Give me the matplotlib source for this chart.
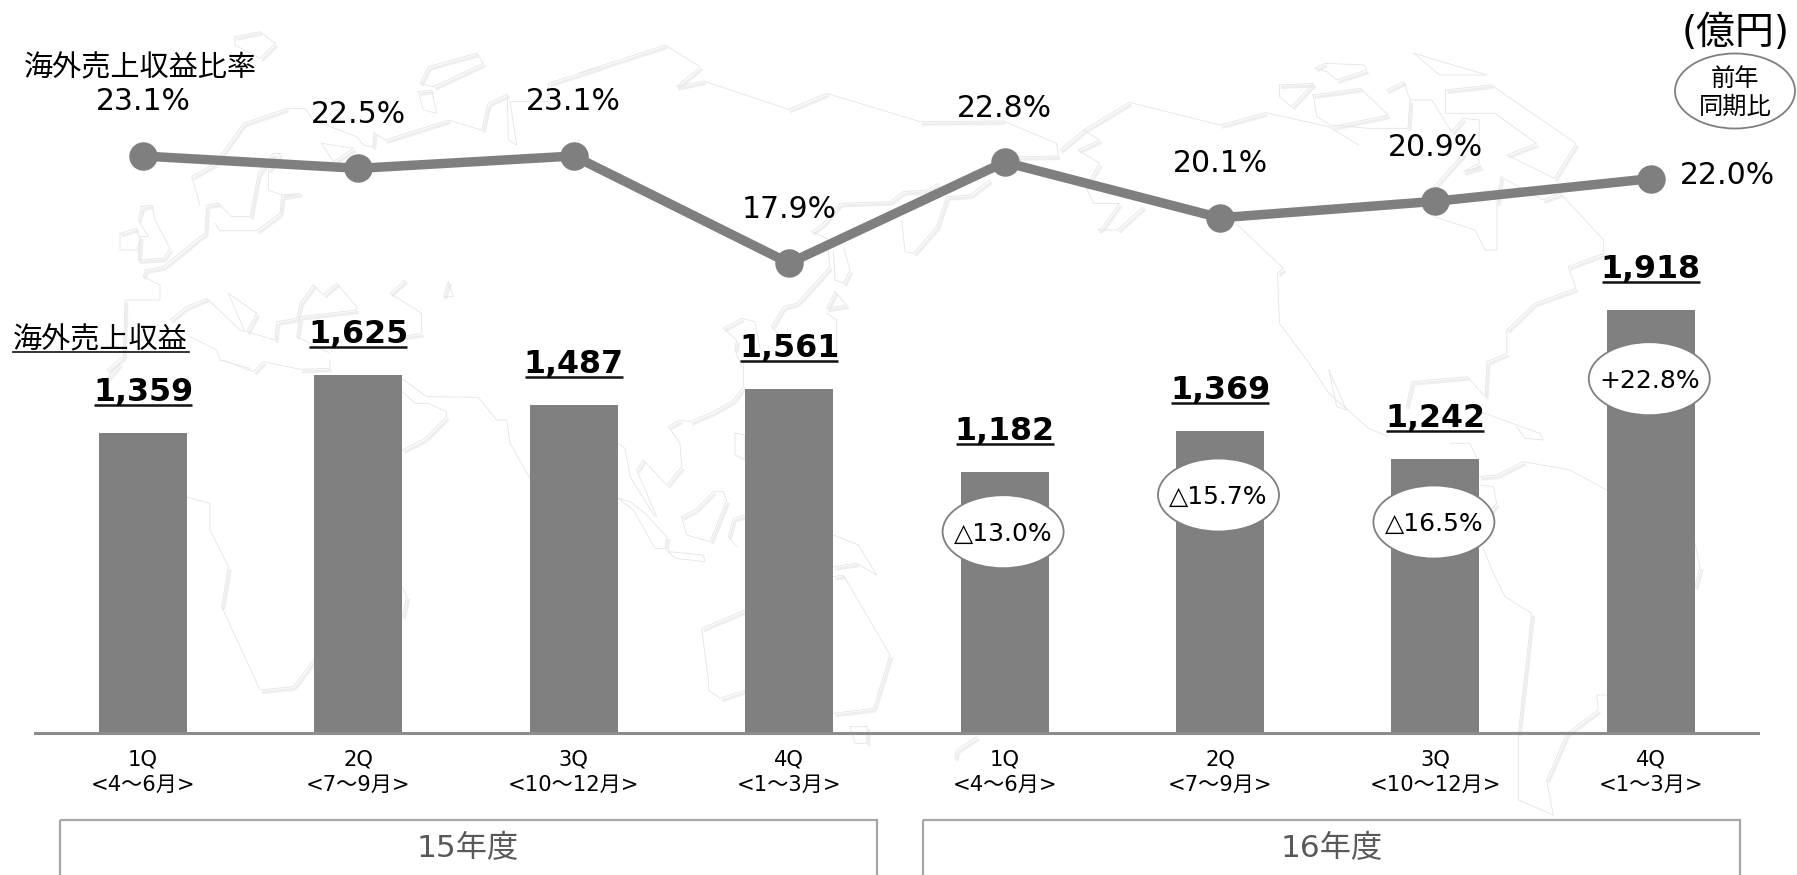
import matplotlib
matplotlib.use('Agg')
import matplotlib.pyplot as plt
from matplotlib.patches import Ellipse, Rectangle

plt.rcParams['font.family'] = ['DejaVu Sans', 'Noto Sans CJK JP']

W, H = 1797, 875

# data
quarters = ['1Q\n<4～6月>', '2Q\n<7～9月>', '3Q\n<10～12月>', '4Q\n<1～3月>'] * 2
sales = [1359, 1625, 1487, 1561, 1182, 1369, 1242, 1918]
ratio = [23.1, 22.5, 23.1, 17.9, 22.8, 20.1, 20.9, 22.0]
yoy_labels = ['△13.0%', '△15.7%', '△16.5%', '+22.8%']
yoy_index = [4, 5, 6, 7]
years = ['15年度', '16年度']

# pixel layout of the chart
x0, x_step = 143.0, 215.4
base_y, px_per_sale = 732.5, 0.2203
ratio_y, px_per_pct = 156.0, 20.6
bar_w = 88 / x_step
gray = '#7f7f7f'

map_5 = (100, 20, 3, 3, [
    [(300, 555), (275, 470), (345, 430), (430, 310), (560, 265), (615, 265), (640, 300), (690, 320), (770, 350), (790, 375), (818, 382), (822, 338), (855, 360), (1045, 300), (1145, 330), (1165, 250), (1222, 222), (1225, 360), (1250, 375), (1230, 245), (1345, 245), (1345, 190), (1500, 140)],
    [(125, 560), (155, 555), (165, 600), (210, 685), (190, 715), (115, 720), (120, 650), (145, 650), (115, 600), (125, 560)],
    [(60, 640), (110, 625), (120, 660), (110, 690), (60, 690), (60, 640)],
    [(405, 50), (480, 35), (525, 70), (480, 115), (405, 75), (405, 50)],
    [(1130, 100), (1150, 130), (1000, 200), (960, 190), (985, 140), (1130, 100)],
    [(955, 215), (995, 210), (1010, 280), (970, 270), (955, 215)],
    [(665, 370), (760, 385), (700, 425), (665, 370)],
    [(345, 610), (360, 632), (470, 632), (540, 580), (545, 530), (600, 520), (545, 525), (505, 510), (505, 450), (540, 400), (520, 400), (475, 460), (450, 590), (395, 590), (355, 550), (320, 555), (315, 640), (300, 650), (190, 740), (135, 750), (130, 770), (180, 795), (180, 840), (75, 840), (70, 1010), (20, 1050)],
    [(210, 900), (260, 860), (320, 835), (420, 930), (435, 935), (385, 820), (470, 880), (440, 935), (525, 960), (530, 905), (590, 895), (600, 850), (640, 795), (670, 825), (710, 790), (770, 860), (770, 870), (600, 890), (590, 950), (690, 1000)],
    [(1045, 785), (1030, 830), (1060, 830), (1045, 785)],
    [(915, 780), (870, 820), (965, 880), (965, 940), (900, 950)],
    [(270, 950), (350, 990), (360, 1020), (450, 1045)],
])
map_6 = (100, 360, 3, 3, [
    [(60, 10), (0, 80)],
    [(370, 0), (460, 35), (490, 5), (600, 28), (690, 25), (690, 0)],
    [(262, 412), (330, 430), (330, 510), (385, 620), (365, 740), (480, 990), (580, 980), (640, 900)],
    [(905, 680), (920, 710), (907, 770)],
    [(907, 95), (945, 130), (985, 130), (1040, 155), (1040, 170), (975, 235), (907, 270)],
    [(905, 55), (980, 110), (1135, 112), (1190, 180), (1220, 180), (1230, 250), (1290, 355)],
])
map_7 = (580, 20, 3, 3, [
    [(0, 158), (255, 75), (360, 140), (290, 200), (370, 183), (625, 268), (740, 220), (1020, 305), (1270, 303), (1430, 370), (1435, 408), (1310, 410)],
    [(1230, 480), (1170, 525), (1100, 530), (1070, 620), (1000, 700), (975, 695), (965, 600)],
    [(1075, 490), (1040, 510), (970, 515), (930, 545), (780, 550), (730, 610), (695, 635), (740, 655), (750, 740), (650, 850), (610, 860), (575, 920), (600, 950)],
    [(790, 680), (810, 750), (790, 790), (765, 780), (760, 690)],
    [(765, 815), (740, 865), (800, 855), (765, 815)],
    [(740, 880), (770, 900), (770, 1010)],
    [(540, 985), (525, 905), (485, 895), (430, 925), (470, 960), (465, 990), (485, 1040)],
])
map_8 = (580, 360, 3, 3, [
    [(490, 10), (490, 80), (460, 120), (400, 155), (330, 185), (300, 180), (265, 200), (300, 250), (305, 320), (260, 375), (190, 300), (170, 330), (230, 470)],
    [(115, 250), (135, 265), (150, 350), (225, 470)],
    [(115, 415), (160, 450), (225, 565), (255, 565), (260, 530), (195, 460), (150, 425), (115, 415)],
    [(265, 575), (370, 585), (375, 605), (285, 595), (265, 575)],
    [(305, 470), (320, 525), (390, 545), (440, 420), (430, 395), (400, 395), (345, 450), (305, 470)],
    [(495, 465), (460, 475), (445, 530), (470, 560)],
    [(465, 220), (495, 225), (495, 300), (465, 285), (465, 220)],
    [(760, 525), (835, 555), (890, 645), (830, 610), (760, 620)],
    [(495, 750), (365, 805), (385, 960), (385, 990), (420, 1015), (495, 990)],
    [(760, 650), (790, 645), (930, 885), (880, 1045), (760, 1060)],
    [(810, 1100), (862, 1100), (860, 1150), (825, 1150), (810, 1100)],
    [(1190, 1130), (1130, 1170), (1125, 1195)],
])
map_9 = (1060, 40, 2.529, 3, [
    [(0, 330), (60, 270), (175, 187), (405, 255), (520, 218), (680, 260), (755, 315)],
    [(60, 270), (100, 300), (45, 330), (100, 370), (65, 440), (85, 490), (150, 490), (105, 565), (95, 570), (145, 570), (210, 500)],
    [(440, 545), (565, 685), (550, 700), (555, 850), (630, 970), (680, 1060), (780, 1165), (830, 1190)],
    [(680, 990), (725, 1110), (700, 1100), (680, 990)],
    [(1375, 600), (1375, 640), (1285, 680), (1305, 745), (1200, 790), (1130, 870), (1130, 940), (1080, 965), (1075, 1070), (1030, 1010), (890, 1025), (875, 1100)],
    [(945, 530), (1050, 570), (1075, 630), (1105, 630), (1105, 490), (1115, 410), (1220, 480), (1265, 460), (1375, 600)],
    [(555, 135), (640, 130), (585, 200), (555, 170), (555, 135)],
    [(640, 165), (760, 145), (830, 225), (690, 260), (650, 230), (640, 165)],
    [(645, 85), (670, 70), (770, 75), (775, 90), (700, 120), (675, 95), (645, 85)],
    [(895, 40), (1080, 105), (960, 105), (895, 40)],
    [(975, 150), (1090, 135), (1305, 310), (1250, 415), (1130, 345), (1205, 310), (1100, 220), (975, 220), (975, 150)],
    [(825, 150), (870, 125), (885, 180), (940, 180), (990, 275), (1020, 235), (1060, 240), (1060, 370), (1020, 395), (1065, 380)],
    [(885, 180), (880, 265), (780, 265), (690, 255)],
    [(1020, 340), (945, 440)],
])
map_10 = (1200, 400, 3, 3, [
    [(800, 20), (950, 75), (1020, 100), (1030, 120), (975, 115), (950, 80)],
    [(838, 230), (890, 225), (970, 185), (1110, 210), (1220, 270)],
    [(838, 255), (880, 260), (890, 310), (850, 360)],
    [(750, 130), (810, 130), (830, 175)],
    [(850, 445), (880, 520), (915, 590), (995, 640), (955, 1000), (955, 1200), (1060, 1245)],
    [(1220, 885), (1190, 885), (1195, 930), (1100, 1000), (1040, 1140), (1060, 1245)],
    [(1485, 430), (1500, 500), (1485, 560)],
])

fig = plt.figure(figsize=(W / 100, H / 100), dpi=100)

# map layer, in reference pixels
ax_map = fig.add_axes([0, 0, 1, 1], zorder=0)
ax_map.set_xlim(0, W)
ax_map.set_ylim(H, 0)
ax_map.axis('off')
for left, top, sx, sy, paths in [map_5, map_6, map_7, map_8, map_9, map_10]:
    for path in paths:
        xs = [left + p[0] / sx for p in path]
        ys = [top + p[1] / sy for p in path]
        # the soft shadow only shows on edges running NE-SW
        for i in range(len(xs) - 1):
            if (xs[i + 1] - xs[i]) * (ys[i + 1] - ys[i]) < 0:
                ax_map.plot([xs[i] + 2, xs[i + 1] + 2], [ys[i] + 2.5, ys[i + 1] + 2.5],
                            color='#eeeeee', lw=2.2, zorder=1, solid_capstyle='butt')
        ax_map.plot(xs, ys, color='#e4e4e4', lw=0.6, zorder=2)

# bars
ax_bar = fig.add_axes([0, 0, 1, 1], zorder=1)
ax_bar.patch.set_visible(False)
positions = list(range(len(sales)))
ax_bar.set_xlim(-x0 / x_step, (W - x0) / x_step)
ax_bar.set_ylim(-(H - base_y) / px_per_sale, base_y / px_per_sale)
ax_bar.bar(positions, sales, width=bar_w, color='#808080')
for s in ['top', 'left', 'right']:
    ax_bar.spines[s].set_visible(False)
ax_bar.spines['bottom'].set_position(('data', 0))
ax_bar.spines['bottom'].set_bounds((35 - x0) / x_step, (1758 - x0) / x_step)
ax_bar.spines['bottom'].set_color('#8c8c8c')
ax_bar.spines['bottom'].set_linewidth(2.2)
ax_bar.set_yticks([])
ax_bar.set_xticks(positions)
ax_bar.set_xticklabels(quarters, fontsize=15.2, linespacing=1.38)
ax_bar.tick_params(axis='x', length=0, pad=12)
for x, v in zip(positions, sales):
    ax_bar.annotate(f'{v:,}', (x, v), xytext=(0, 32), textcoords='offset pixels',
                    ha='center', va='baseline', fontsize=22.8, fontweight='bold', color='black')
    ax_bar.plot([x - 49 / x_step, x + 49 / x_step], [v + 28 / px_per_sale] * 2, color='#111111', lw=1.8,
                solid_capstyle='butt')

# overseas ratio line
ax_line = fig.add_axes([0, 0, 1, 1], zorder=2)
ax_line.patch.set_visible(False)
ax_line.axis('off')
ax_line.set_xlim(ax_bar.get_xlim())
ax_line.set_ylim(ratio[0] - (H - ratio_y) / px_per_pct, ratio[0] + ratio_y / px_per_pct)
ax_line.plot(positions, ratio, color=gray, lw=6.8, marker='o', ms=20.5, mew=0, solid_joinstyle='miter')
for x, v in zip(positions, ratio):
    if x == positions[-1]:
        off = (77, 3)
    else:
        off = (0, 54)
    ax_line.annotate(f'{v:.1f}%', (x, v), xytext=off, textcoords='offset pixels',
                     ha='center', va='center', fontsize=21.5, color='black')

# ellipses, boxes and loose labels, in reference pixels
ax_top = fig.add_axes([0, 0, 1, 1], zorder=3)
ax_top.patch.set_visible(False)
ax_top.set_xlim(0, W)
ax_top.set_ylim(H, 0)
ax_top.axis('off')

yoy_y = [531.7, 495, 522, 378.7]
for i, label, cy in zip(yoy_index, yoy_labels, yoy_y):
    cx = x0 + i * x_step - 1.5
    ax_top.add_patch(Ellipse((cx, cy), 121, 73, fc='white', ec=gray, lw=1.3))
    ax_top.text(cx, cy + 2, label, ha='center', va='center', fontsize=18, color='black')

ax_top.add_patch(Ellipse((1735, 91), 120, 75, fc='white', ec=gray, lw=1.3))
ax_top.text(1735, 79, '前年', ha='center', va='center', fontsize=17.5)
ax_top.text(1735, 107, '同期比', ha='center', va='center', fontsize=17.5)
ax_top.text(1736, 33, '(億円)', ha='center', va='center', fontsize=28)

ax_top.text(24, 68, '海外売上収益比率', ha='left', va='center', fontsize=21)
ax_top.text(13, 340, '海外売上収益', ha='left', va='center', fontsize=21)
ax_top.plot([13, 189], [352, 352], color='#111111', lw=1.2)

for left, right, label in zip([59.7, 923], [876.6, 1740], years):
    ax_top.add_patch(Rectangle((left, 820), right - left, 80, fc='none', ec='#a6a6a6', lw=1.6))
    ax_top.text((left + right) / 2, 848, label, ha='center', va='center', fontsize=22.5, color='#595959')

fig.savefig('out.png', dpi=100)
